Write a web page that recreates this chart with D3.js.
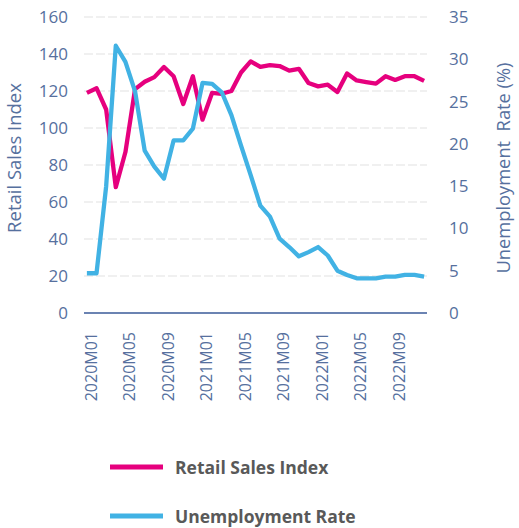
<!DOCTYPE html>
<html><head><meta charset="utf-8">
<script src="https://cdn.jsdelivr.net/npm/d3@7"></script>
<style>
body{margin:0;background:#fff;}
text{font-family:"Open Sans","Noto Sans",sans-serif;}
</style></head>
<body><svg id="c" width="519" height="528"></svg>
<script>
const months = [];
for (const y of [2020, 2021, 2022]) for (let m = 1; m <= 12; m++) months.push(y + "M" + String(m).padStart(2, "0"));
const retailSales = [119,121.5,110,68,87,121,125,127.5,133,128,113,128,
  104.5,119,118.5,120,130,136,133,134,133.5,131,132,124.3,
  122.5,123.4,119.5,129.5,125.7,124.8,124,128,126,128,128,125.5];
const unemployment = [4.7,4.7,15,31.6,29.7,26.2,19.2,17.3,15.9,20.4,20.4,21.8,
  27.2,27.1,26.1,23.4,19.8,16.3,12.7,11.4,8.8,7.8,6.7,7.2,
  7.8,6.8,5.0,4.5,4.1,4.1,4.1,4.3,4.3,4.5,4.5,4.3];
const leftTicks = [0,20,40,60,80,100,120,140,160];
const rightTicks = [0,5,10,15,20,25,30,35];
const xTickLabels = ["2020M01","2020M05","2020M09","2021M01","2021M05","2021M09","2022M01","2022M05","2022M09"];
const seriesNames = ["Retail Sales Index","Unemployment Rate"];
const colors = ["#e6007e","#41b2e4"];
const axisColor = "#56709e";

const svg = d3.select("#c");
const x = d3.scalePoint().domain(months).range([84, 427]).padding(0.3);
const yL = d3.scaleLinear().domain([0,160]).range([313,17]);
const yR = d3.scaleLinear().domain([0,35]).range([313,17]);

// gridlines
svg.append("g").selectAll("line").data(leftTicks.filter(d=>d>0)).join("line")
  .attr("x1",84).attr("x2",427).attr("y1",d=>yL(d)).attr("y2",d=>yL(d))
  .attr("stroke","#ececec").attr("stroke-width",1.3).attr("stroke-dasharray","9,3");
// zero line
svg.append("line").attr("x1",84).attr("x2",427).attr("y1",yL(0)).attr("y2",yL(0))
  .attr("stroke","#3a5a98").attr("stroke-width",1.5);

// left ticks
svg.append("g").selectAll("text").data(leftTicks).join("text")
  .attr("x",68).attr("y",d=>yL(d)).attr("dy","0.35em").attr("text-anchor","end")
  .attr("font-size",17).attr("fill",axisColor).text(d=>d);
// right ticks
svg.append("g").selectAll("text").data(rightTicks).join("text")
  .attr("x",449).attr("y",d=>yR(d)).attr("dy","0.35em").attr("text-anchor","start")
  .attr("font-size",17).attr("fill",axisColor).text(d=>d);
// x labels
svg.append("g").selectAll("text").data(xTickLabels).join("text")
  .attr("transform",d=>`translate(${x(d)+9.8},332) rotate(-90)`)
  .attr("text-anchor","end").attr("font-size",16).attr("fill",axisColor).text(d=>d);

// axis titles
svg.append("text").attr("transform","translate(21,158) rotate(-90)")
  .attr("text-anchor","middle").attr("font-size",18.5).attr("fill",axisColor).text("Retail Sales Index");
svg.append("text").attr("transform","translate(510,168) rotate(-90)")
  .attr("text-anchor","middle").attr("font-size",18.3).attr("fill",axisColor)
  .style("white-space","pre").text("Unemployment  Rate (%)");

// lines
const lineL = d3.line().x((d,i)=>x(months[i])).y(d=>yL(d));
const lineR = d3.line().x((d,i)=>x(months[i])).y(d=>yR(d));
svg.append("path").datum(retailSales).attr("d",lineL).attr("fill","none")
  .attr("stroke",colors[0]).attr("stroke-width",4.3).attr("stroke-linejoin","round");
svg.append("path").datum(unemployment).attr("d",lineR).attr("fill","none")
  .attr("stroke",colors[1]).attr("stroke-width",4.3).attr("stroke-linejoin","round");

// legend
const lg = svg.append("g").selectAll("g").data(seriesNames).join("g")
  .attr("transform",(d,i)=>`translate(0,${467+i*49})`);
lg.append("line").attr("x1",110).attr("x2",163).attr("y1",0).attr("y2",0)
  .attr("stroke",(d,i)=>colors[i]).attr("stroke-width",5);
lg.append("text").attr("x",175).attr("y",1).attr("dy","0.35em")
  .attr("font-size",17.5).attr("font-weight","bold").attr("fill","#595959").text(d=>d);
</script></body></html>
